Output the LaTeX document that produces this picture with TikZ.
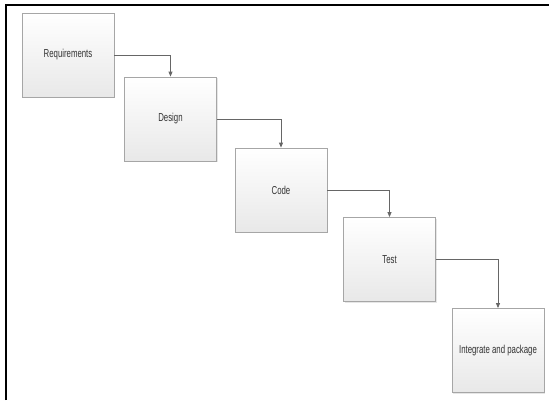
\documentclass[tikz,border=0pt]{standalone}
\usepackage{fontspec}
\setmainfont{Liberation Sans}[FakeStretch=0.68]
\usepackage{tikz}
\usetikzlibrary{arrows.meta}
\usetikzlibrary{shadows}

\tikzset{
    stage/.style={draw=gray!70, line width=0.8pt, top color=white, bottom color=gray!18,
        minimum width=92pt, minimum height=84pt, inner sep=0pt,
        font=\fontsize{11.5}{13}\selectfont, text=black!80,
        drop shadow={opacity=0.2, shadow xshift=1pt, shadow yshift=-1pt}},
    flow/.style={draw=gray!80!black, line width=0.8pt, -{Triangle[length=5pt,width=4pt]}}
}

\begin{document}
\begin{tikzpicture}[x=1pt,y=-1pt]
            \useasboundingbox (0,0) rectangle (549,400);
            \draw[line width=2pt] (6,400) -- (6,5) -- (549,5);

            \node[stage] (req) at (68,55) {Requirements};
            \node[stage] (des) at (170.5,119) {Design};
            \node[stage] (cod) at (281,190) {Code};
            \node[stage] (tst) at (389.5,259.5) {Test};
            \node[stage] (pkg) at (498,350.5) {Integrate and package};

            \draw[flow] (req.east) -| (des.north);
            \draw[flow] (des.east) -| (cod.north);
            \draw[flow] (cod.east) -| (tst.north);
            \draw[flow] (tst.east) -| (pkg.north);
        \end{tikzpicture}
\end{document}
